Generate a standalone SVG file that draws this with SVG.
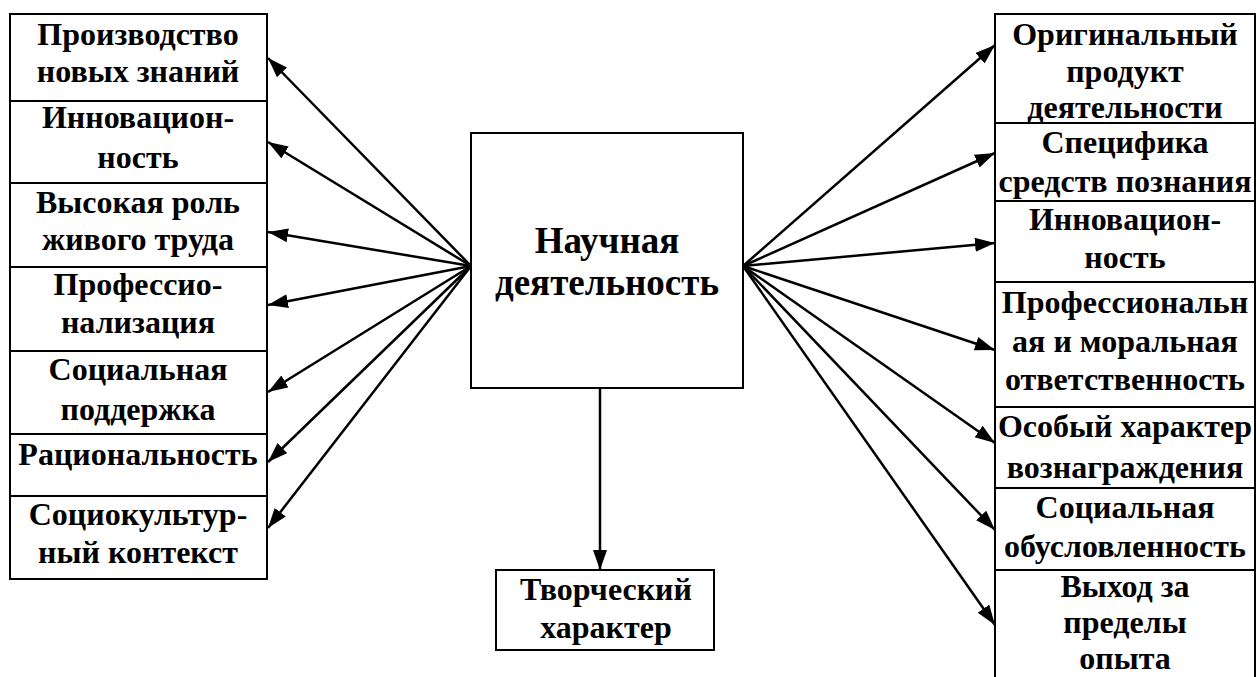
<svg xmlns="http://www.w3.org/2000/svg" width="1256" height="677" viewBox="0 0 1256 677">
  <style>
    .box { fill: #fff; stroke: #000; stroke-width: 2; }
    .lbl { font-family: "Liberation Serif", "Times New Roman", serif; font-weight: bold; font-size: 32px; fill: #000; text-anchor: middle; }
    .big { font-size: 37px; }
    .edge { stroke: #000; stroke-width: 2.5; fill: none; marker-end: url(#arrow); }
  </style>
  <defs>
    <marker id="arrow" markerUnits="userSpaceOnUse" markerWidth="22" markerHeight="16" refX="20" refY="7" orient="auto">
      <path d="M0,0 L20,7 L0,14 Z" fill="#000"/>
    </marker>
  </defs>
  <rect width="1256" height="677" fill="#fff"/>

  <!-- connectors -->
  <g id="connectors">
    <line class="edge" x1="471" y1="266" x2="268" y2="58"/>
    <line class="edge" x1="471" y1="266" x2="268" y2="142"/>
    <line class="edge" x1="471" y1="266" x2="268" y2="232"/>
    <line class="edge" x1="471" y1="266" x2="268" y2="305"/>
    <line class="edge" x1="471" y1="266" x2="268" y2="392"/>
    <line class="edge" x1="471" y1="266" x2="268" y2="462"/>
    <line class="edge" x1="471" y1="266" x2="268" y2="528"/>
    <line class="edge" x1="743" y1="266" x2="995" y2="45"/>
    <line class="edge" x1="743" y1="266" x2="995" y2="153"/>
    <line class="edge" x1="743" y1="266" x2="995" y2="243"/>
    <line class="edge" x1="743" y1="266" x2="995" y2="350"/>
    <line class="edge" x1="743" y1="266" x2="995" y2="443"/>
    <line class="edge" x1="743" y1="266" x2="995" y2="530"/>
    <line class="edge" x1="743" y1="266" x2="995" y2="625"/>
    <line class="edge" x1="600" y1="388" x2="600" y2="570"/>
  </g>

  <!-- central node -->
  <g id="center">
    <rect class="box" x="471" y="133" width="272" height="255"/>
    <text class="lbl big" x="607" y="253">Научная</text>
    <text class="lbl big" x="607" y="295">деятельность</text>
  </g>

  <g id="creative">
    <rect class="box" x="496" y="570" width="218" height="80"/>
    <text class="lbl" x="606" y="600">Творческий</text>
    <text class="lbl" x="606" y="638">характер</text>
  </g>

  <!-- left column -->
  <g id="l1">
    <rect class="box" x="10" y="14" width="257" height="87"/>
    <text class="lbl" x="138" y="45">Производство</text>
    <text class="lbl" x="138" y="82">новых знаний</text>
  </g>
  <g id="l2">
    <rect class="box" x="10" y="101" width="257" height="82"/>
    <text class="lbl" x="138" y="128">Инновацион-</text>
    <text class="lbl" x="138" y="168">ность</text>
  </g>
  <g id="l3">
    <rect class="box" x="10" y="183" width="257" height="84"/>
    <text class="lbl" x="138" y="213">Высокая роль</text>
    <text class="lbl" x="138" y="250">живого труда</text>
  </g>
  <g id="l4">
    <rect class="box" x="10" y="267" width="257" height="84"/>
    <text class="lbl" x="138" y="295">Профессио-</text>
    <text class="lbl" x="138" y="333">нализация</text>
  </g>
  <g id="l5">
    <rect class="box" x="10" y="351" width="257" height="83"/>
    <text class="lbl" x="138" y="380">Социальная</text>
    <text class="lbl" x="138" y="420">поддержка</text>
  </g>
  <g id="l6">
    <rect class="box" x="10" y="434" width="257" height="62"/>
    <text class="lbl" x="138" y="465">Рациональность</text>
  </g>
  <g id="l7">
    <rect class="box" x="10" y="496" width="257" height="83"/>
    <text class="lbl" x="138" y="525">Социокультур-</text>
    <text class="lbl" x="138" y="563">ный контекст</text>
  </g>

  <!-- right column -->
  <g id="r1">
    <rect class="box" x="995" y="14" width="260" height="109"/>
    <text class="lbl" x="1125" y="45">Оригинальный</text>
    <text class="lbl" x="1125" y="82">продукт</text>
    <text class="lbl" x="1125" y="118">деятельности</text>
  </g>
  <g id="r2">
    <rect class="box" x="995" y="123" width="260" height="78"/>
    <text class="lbl" x="1125" y="153">Специфика</text>
    <text class="lbl" x="1125" y="192">средств познания</text>
  </g>
  <g id="r3">
    <rect class="box" x="995" y="201" width="260" height="81"/>
    <text class="lbl" x="1125" y="230">Инновацион-</text>
    <text class="lbl" x="1125" y="268">ность</text>
  </g>
  <g id="r4">
    <rect class="box" x="995" y="282" width="260" height="125"/>
    <text class="lbl" x="1125" y="313">Профессиональн</text>
    <text class="lbl" x="1125" y="352">ая и моральная</text>
    <text class="lbl" x="1125" y="390">ответственность</text>
  </g>
  <g id="r5">
    <rect class="box" x="995" y="407" width="260" height="81"/>
    <text class="lbl" x="1125" y="437">Особый характер</text>
    <text class="lbl" x="1125" y="478">вознаграждения</text>
  </g>
  <g id="r6">
    <rect class="box" x="995" y="488" width="260" height="82"/>
    <text class="lbl" x="1125" y="518">Социальная</text>
    <text class="lbl" x="1125" y="557">обусловленность</text>
  </g>
  <g id="r7">
    <rect class="box" x="995" y="570" width="260" height="120"/>
    <text class="lbl" x="1125" y="597">Выход за</text>
    <text class="lbl" x="1125" y="633">пределы</text>
    <text class="lbl" x="1125" y="669">опыта</text>
  </g>
</svg>
